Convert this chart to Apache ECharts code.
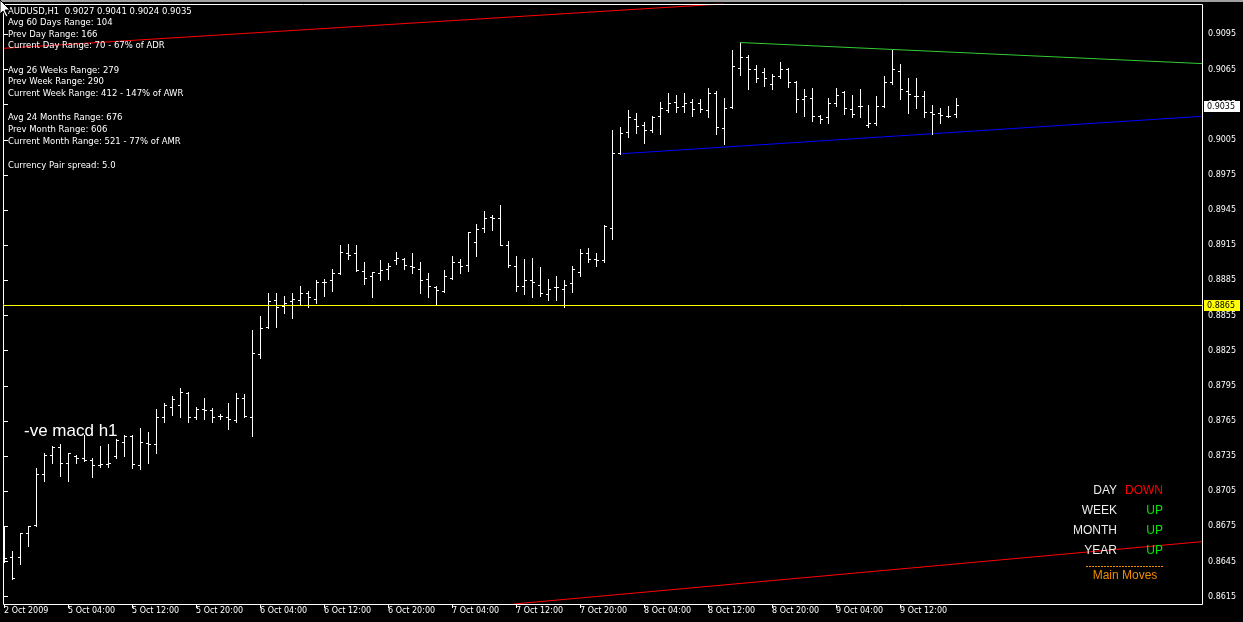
<!DOCTYPE html>
<html><head><meta charset="utf-8">
<script src="https://cdn.jsdelivr.net/npm/echarts@6/dist/echarts.min.js"></script>
<style>html,body{margin:0;padding:0;background:#000;}#c{width:1243px;height:622px;}</style>
</head><body><div id="c"></div>
<script>
// time labels every 8 hourly bars (bar 0 = 2 Oct 2009 20:00)
const tickLabels = ['2 Oct 2009','5 Oct 04:00','5 Oct 12:00','5 Oct 20:00','6 Oct 04:00','6 Oct 12:00','6 Oct 20:00','7 Oct 04:00','7 Oct 12:00','7 Oct 20:00','8 Oct 04:00','8 Oct 12:00','8 Oct 20:00','9 Oct 04:00','9 Oct 12:00'];
const tickBars = [0,8,16,24,32,40,48,56,64,72,80,88,96,104,112];
const priceTicks = [0.8615,0.8645,0.8675,0.8705,0.8735,0.8765,0.8795,0.8825,0.8855,0.8885,0.8915,0.8945,0.8975,0.9005,0.9035,0.9065,0.9095];

const opens = [0.8660,0.8649,0.8649,0.8669,0.8676,0.8720,0.8736,0.8743,0.8729,0.8735,
0.8733,0.8732,0.8727,0.8728,0.8735,0.8747,0.8752,0.8727,0.8746,0.8745,
0.8768,0.8777,0.8779,0.8789,0.8768,0.8775,0.8774,0.8769,0.8768,0.8766,
0.8785,0.8768,0.8822,0.8845,0.8868,0.8863,0.8867,0.8868,0.8874,0.8869,
0.8884,0.8885,0.8891,0.8908,0.8908,0.8893,0.8889,0.8891,0.8895,0.8902,
0.8903,0.8897,0.8895,0.8886,0.8879,0.8876,0.8887,0.8901,0.8898,0.8918,
0.8930,0.8939,0.8938,0.8915,0.8897,0.8880,0.8885,0.8881,0.8873,0.8879,
0.8878,0.8883,0.8892,0.8908,0.8903,0.8902,0.8930,0.8994,0.9012,0.9023,
0.9018,0.9013,0.9025,0.9030,0.9037,0.9034,0.9037,0.9036,0.9030,0.9045,
0.9015,0.9033,0.9066,0.9076,0.9065,0.9063,0.9053,0.9059,0.9065,0.9054,
0.9040,0.9041,0.9025,0.9024,0.9036,0.9046,0.9031,0.9034,0.9018,0.9019,
0.9034,0.9054,0.9064,0.9047,0.9042,0.9042,0.9029,0.9028,0.9025,0.9027];
const highs = [0.8675,0.8654,0.8669,0.8675,0.8725,0.8738,0.8744,0.8745,0.8738,0.8736,
0.8753,0.8733,0.8744,0.8745,0.8750,0.8753,0.8753,0.8759,0.8756,0.8775,
0.8780,0.8786,0.8793,0.8790,0.8777,0.8785,0.8776,0.8771,0.8780,0.8789,
0.8788,0.8843,0.8855,0.8874,0.8874,0.8872,0.8874,0.8880,0.8876,0.8885,
0.8886,0.8895,0.8915,0.8916,0.8915,0.8901,0.8892,0.8902,0.8900,0.8909,
0.8904,0.8908,0.8901,0.8891,0.8880,0.8894,0.8906,0.8903,0.8926,0.8933,
0.8944,0.8941,0.8949,0.8919,0.8906,0.8903,0.8904,0.8896,0.8886,0.8889,
0.8885,0.8897,0.8912,0.8913,0.8908,0.8932,0.9013,0.9016,0.9030,0.9028,
0.9020,0.9025,0.9037,0.9045,0.9043,0.9045,0.9040,0.9040,0.9049,0.9047,
0.9041,0.9082,0.9088,0.9077,0.9069,0.9066,0.9061,0.9071,0.9066,0.9055,
0.9048,0.9049,0.9026,0.9041,0.9049,0.9047,0.9043,0.9048,0.9035,0.9042,
0.9059,0.9082,0.9070,0.9058,0.9058,0.9047,0.9035,0.9032,0.9034,0.9041];
const lows = [0.8645,0.8630,0.8643,0.8658,0.8675,0.8714,0.8729,0.8718,0.8714,0.8729,
0.8731,0.8717,0.8726,0.8726,0.8733,0.8735,0.8725,0.8724,0.8729,0.8738,
0.8764,0.8770,0.8768,0.8764,0.8767,0.8767,0.8764,0.8767,0.8758,0.8764,
0.8768,0.8752,0.8819,0.8844,0.8845,0.8857,0.8853,0.8865,0.8862,0.8866,
0.8872,0.8876,0.8890,0.8903,0.8893,0.8882,0.8871,0.8885,0.8886,0.8899,
0.8895,0.8891,0.8874,0.8871,0.8864,0.8875,0.8886,0.8891,0.8893,0.8906,
0.8926,0.8928,0.8915,0.8896,0.8876,0.8873,0.8871,0.8872,0.8868,0.8868,
0.8862,0.8875,0.8889,0.8901,0.8897,0.8901,0.8920,0.8993,0.9007,0.9011,
0.9002,0.9012,0.9010,0.9029,0.9029,0.9029,0.9025,0.9029,0.9024,0.9010,
0.9001,0.9032,0.9060,0.9048,0.9054,0.9051,0.9048,0.9058,0.9050,0.9029,
0.9025,0.9021,0.9019,0.9019,0.9034,0.9027,0.9024,0.9024,0.9016,0.9018,
0.9033,0.9053,0.9040,0.9028,0.9032,0.9024,0.9010,0.9019,0.9024,0.9024];
const closes = [0.8648,0.8631,0.8669,0.8675,0.8720,0.8736,0.8743,0.8729,0.8738,0.8733,
0.8732,0.8727,0.8728,0.8729,0.8749,0.8752,0.8728,0.8747,0.8745,0.8768,
0.8779,0.8784,0.8790,0.8768,0.8775,0.8774,0.8768,0.8769,0.8767,0.8785,
0.8769,0.8823,0.8844,0.8867,0.8862,0.8866,0.8869,0.8874,0.8871,0.8884,
0.8884,0.8891,0.8909,0.8907,0.8894,0.8887,0.8892,0.8894,0.8897,0.8904,
0.8898,0.8896,0.8885,0.8880,0.8877,0.8889,0.8901,0.8897,0.8926,0.8929,
0.8938,0.8938,0.8915,0.8898,0.8880,0.8885,0.8884,0.8874,0.8878,0.8879,
0.8881,0.8895,0.8908,0.8903,0.8902,0.8931,0.8994,0.9011,0.9024,0.9017,
0.9013,0.9024,0.9032,0.9036,0.9033,0.9036,0.9031,0.9031,0.9045,0.9016,
0.9032,0.9068,0.9076,0.9065,0.9058,0.9058,0.9059,0.9065,0.9054,0.9040,
0.9042,0.9025,0.9023,0.9036,0.9043,0.9032,0.9027,0.9034,0.9019,0.9034,
0.9054,0.9065,0.9048,0.9044,0.9042,0.9029,0.9027,0.9026,0.9025,0.9035];

// trend lines: [bar index, price] anchor points
const redTop = [[-0.125,0.9083],[90,0.9121]];
const redBottom = [[63.75,0.86088],[149.75,0.8662]];
const greenLine = [[92,0.9088],[149.75,0.9070]];
const blueLine = [[77,0.8993],[149.75,0.9025]];
// price levels: horizontal level line (yellow) and last bid marker (white)
const levelPrices = [0.8865, 0.9035];
const levelHasLine = [1, 0];

const infoLines = [
  ['AUDUSD,H1  0.9027 0.9041 0.9024 0.9035', 12],
  ['Avg 60 Days Range: 104', 23],
  ['Prev Day Range: 166', 34.5],
  ['Current Day Range: 70 - 67% of ADR', 46],
  ['Avg 26 Weeks Range: 279', 70.5],
  ['Prev Week Range: 290', 82],
  ['Current Week Range: 412 - 147% of AWR', 94],
  ['Avg 24 Months Range: 676', 118],
  ['Prev Month Range: 606', 130],
  ['Current Month Range: 521 - 77% of AMR', 142],
  ['Currency Pair spread: 5.0', 166]
];
const moves = [['DAY','DOWN','#ff0000',491],['WEEK','UP','#00e600',511],['MONTH','UP','#00e600',530.5],['YEAR','UP','#00e600',550.5]];

const data = opens.map((o,i)=>[i,o,highs[i],lows[i],closes[i]]);
const levelData = levelPrices.map((p,i)=>[p, levelHasLine[i]]);
const levelColors = ['#ffff00', '#ffffff'];

const FF = '"DejaVu Sans", Tahoma, sans-serif';

function renderBar(params, api){
  const x = api.value(0);
  const po = api.coord([x, api.value(1)]);
  const ph = api.coord([x, api.value(2)]);
  const pl = api.coord([x, api.value(3)]);
  const pc = api.coord([x, api.value(4)]);
  const cx = Math.round(po[0]) + 0.5;
  const r = v => Math.round(v) + 0.5;
  const st = {stroke:'#ffffff', lineWidth:1};
  return {type:'group', children:[
    {type:'line', shape:{x1:cx,y1:Math.round(ph[1]),x2:cx,y2:Math.round(pl[1])+1}, style:st},
    {type:'line', shape:{x1:cx-2.5,y1:r(po[1]),x2:cx-0.5,y2:r(po[1])}, style:st},
    {type:'line', shape:{x1:cx+0.5,y1:r(pc[1]),x2:cx+2.5,y2:r(pc[1])}, style:st}
  ]};
}

function renderLevel(params, api){
  const cs = params.coordSys;
  const price = api.value(0);
  const y = Math.round(api.coord([0, price])[1]) + 1;
  const col = levelColors[params.dataIndex];
  const right = cs.x + cs.width;
  const children = [];
  if (api.value(1) === 1) {
    children.push({type:'line', shape:{x1:cs.x+1, y1:y+0.5, x2:right, y2:y+0.5}, style:{stroke:col, lineWidth:1}});
  }
  children.push({type:'rect', shape:{x:right+2, y:y-5, width:36, height:11}, style:{fill:col}});
  children.push({type:'text', x:right+5, y:y+0.5, style:{text:price.toFixed(4), fill:'#000000', font:'8px '+FF, textVerticalAlign:'middle'}});
  return {type:'group', children};
}

const chart = echarts.init(document.getElementById('c'), null, {renderer:'canvas'});

const graphics = [
  {type:'rect', shape:{x:0,y:0,width:1243,height:2}, style:{fill:'#a0a0a0'}, z:100},
  {type:'rect', shape:{x:3.5,y:4.5,width:1199,height:600}, style:{fill:null, stroke:'#ffffff', lineWidth:1}, z:50},
  {type:'text', x:24, y:431, style:{text:'-ve macd h1', fill:'#ffffff', font:'17px "Liberation Sans", Arial, sans-serif', textVerticalAlign:'middle'}, z:60},
  {type:'line', shape:{x1:1086,y1:566.5,x2:1164,y2:566.5}, style:{stroke:'#f08c00', lineWidth:1, lineDash:[2,1]}, z:60},
  {type:'text', x:1125, y:576, style:{text:'Main Moves', fill:'#f08c00', font:'12px "Liberation Sans", Arial, sans-serif', textAlign:'center', textVerticalAlign:'middle'}, z:60},
  {type:'polygon', shape:{points:[[0,0],[0,14],[3,11],[6,17],[8,16],[5,10],[10,10]]}, style:{fill:'#ffffff', stroke:'#000000', lineWidth:1}, z:120}
];
infoLines.forEach(([t,y])=>{
  graphics.push({type:'text', x:8, y:y, style:{text:t, fill:'#ffffff', font:'8.5px '+FF, textVerticalAlign:'middle'}, z:60});
});
moves.forEach(([a,b,c,y])=>{
  graphics.push({type:'text', x:1117, y:y, style:{text:a, fill:'#ececec', font:'12px "Liberation Sans", Arial, sans-serif', textAlign:'right', textVerticalAlign:'middle'}, z:60});
  graphics.push({type:'text', x:1163, y:y, style:{text:b, fill:c, font:'12px "Liberation Sans", Arial, sans-serif', textAlign:'right', textVerticalAlign:'middle'}, z:60});
});

chart.setOption({
  backgroundColor:'#000000',
  animation:false,
  grid:{left:3, top:4, width:1199, height:600, show:false},
  xAxis:{
    type:'value', min:-0.125, max:149.75,
    axisLine:{show:false}, splitLine:{show:false},
    axisTick:{show:true, customValues:tickBars, length:4, lineStyle:{color:'#ffffff'}},
    axisLabel:{customValues:tickBars, formatter:v=>tickLabels[Math.round(v/8)], align:'left', color:'#ffffff', fontSize:8, fontFamily:FF, margin:3, hideOverlap:false}
  },
  yAxis:{
    type:'value', position:'right', min:0.860878, max:0.912086, scale:true,
    axisLine:{show:false}, splitLine:{show:false},
    axisTick:{show:true, customValues:priceTicks, length:4, lineStyle:{color:'#ffffff'}},
    axisLabel:{customValues:priceTicks, formatter:v=>v.toFixed(4), color:'#ffffff', fontSize:8, fontFamily:FF, margin:6, hideOverlap:false}
  },
  graphic:graphics,
  series:[
    {type:'line', data:redTop, showSymbol:false, symbol:'none', lineStyle:{color:'#ff0000', width:1}, z:3, silent:true},
    {type:'line', data:redBottom, showSymbol:false, symbol:'none', lineStyle:{color:'#ff0000', width:1}, z:3, silent:true},
    {type:'line', data:greenLine, showSymbol:false, symbol:'none', lineStyle:{color:'#32cd32', width:1}, z:3, silent:true},
    {type:'line', data:blueLine, showSymbol:false, symbol:'none', lineStyle:{color:'#0000ff', width:1}, z:3, silent:true},
    {type:'custom', data:data, renderItem:renderBar, clip:true, z:4, silent:true},
    {type:'custom', data:levelData, renderItem:renderLevel, clip:false, z:5, silent:true, encode:{y:0}}
  ]
});
</script>
</body></html>
